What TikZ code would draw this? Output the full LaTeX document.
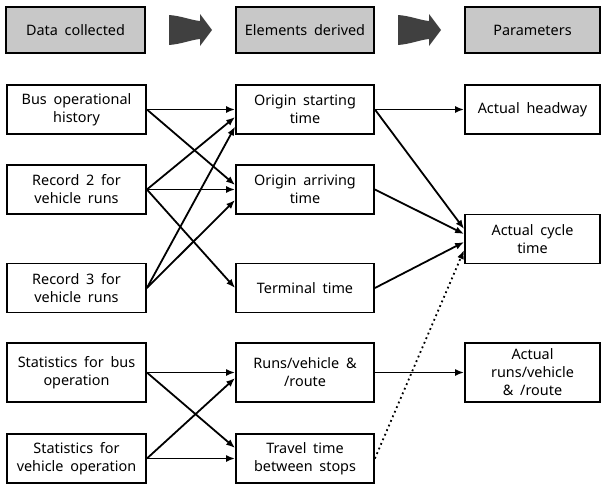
\documentclass[tikz,border=0pt]{standalone}
\usepackage{fontspec}
\setmainfont{Noto Sans}[WordSpace=1.8]
\usetikzlibrary{arrows.meta}
\definecolor{headgray}{RGB}{200,200,200}
\definecolor{arrowgray}{RGB}{64,64,64}
\begin{document}
\begin{tikzpicture}[x=1pt,y=-1pt,
  box/.style={draw=black, line width=1.8pt, fill=white, minimum height=49pt,
    align=center, font=\fontsize{14.4}{18}\selectfont, inner sep=1pt},
  hdr/.style={box, fill=headgray, minimum height=46pt},
  lcol/.style={minimum width=139pt},
  mcol/.style={minimum width=138pt},
  rcol/.style={minimum width=135pt},
  conn/.style={line width=1.8pt, -{Latex[length=9pt,width=7pt]}},
  dotconn/.style={conn, dash pattern=on 1.8pt off 3.2pt},
  bigarrow/.style={fill=arrowgray, draw=none}
]
\useasboundingbox (0,0) rectangle (602,485);

% headers
\node[hdr, minimum width=139pt] (h1) at (75.5,30) {Data collected};
\node[hdr, mcol] (h2) at (305,30) {Elements derived};
\node[hdr, rcol] (h3) at (532.5,30) {Parameters};

% big arrows
\path[bigarrow] (169,15) .. controls (182,16) and (190,20) .. (200,21) -- (200,14) -- (212,30) -- (200,46) -- (200,39) .. controls (190,40) and (182,44) .. (169,45) -- cycle;
\path[bigarrow] (398,15) .. controls (411,16) and (419,20) .. (429,21) -- (429,14) -- (441,30) -- (429,46) -- (429,39) .. controls (419,40) and (411,44) .. (398,45) -- cycle;

% left column
\node[box, lcol] (bus) at (76.5,109.5) {Bus operational\\history};
\node[box, lcol] (r2) at (76.5,189.5) {Record 2 for\\vehicle runs};
\node[box, lcol] (r3) at (76.5,288) {Record 3 for\\vehicle runs};
\node[box, lcol, minimum height=59pt] (sb) at (76.5,372.5) {Statistics for bus\\operation};
\node[box, lcol] (sv) at (76.5,458.5) {Statistics for\\vehicle operation};

% middle column
\node[box, mcol] (os) at (305,109.5) {Origin starting\\time};
\node[box, mcol] (oa) at (305,189.5) {Origin arriving\\time};
\node[box, mcol] (te) at (305,288) {Terminal time};
\node[box, mcol, minimum height=59pt] (rv) at (305,372.5) {Runs/vehicle \&\\/route};
\node[box, mcol] (tt) at (305,458.5) {Travel time\\between stops};

% right column
\node[box, rcol] (hw) at (532.5,109.5) {Actual headway};
\node[box, rcol] (ct) at (532.5,239) {Actual cycle\\time};
\node[box, rcol, minimum height=59pt] (ar) at (532.5,372.5) {Actual\\runs/vehicle\\\& /route};

% connectors: data -> elements
\draw[conn] (bus.east) -- (os.west);
\draw[conn] (bus.east) -- ([yshift=4.5pt]oa.west);
\draw[conn] (r2.east) -- ([yshift=-7.5pt]os.west);
\draw[conn] (r2.east) -- (oa.west);
\draw[conn] (r2.east) -- (te.west);
\draw[conn] (r3.east) -- ([yshift=-17pt]os.west);
\draw[conn] (r3.east) -- ([yshift=-10.5pt]oa.west);
\draw[conn] (sb.east) -- (rv.west);
\draw[conn] (sb.east) -- ([yshift=10.5pt]tt.west);
\draw[conn] (sv.east) -- ([yshift=-5.5pt]rv.west);
\draw[conn] (sv.east) -- (tt.west);

% elements -> parameters
\draw[conn] (os.east) -- (hw.west);
\draw[conn] (os.east) -- ([yshift=10pt]ct.west);
\draw[conn] (oa.east) -- ([yshift=5pt]ct.west);
\draw[conn] (te.east) -- ([yshift=-3pt]ct.west);
\draw[dotconn] (tt.east) -- ([yshift=-11pt]ct.west);
\draw[conn] (rv.east) -- (ar.west);
\end{tikzpicture}
\end{document}
